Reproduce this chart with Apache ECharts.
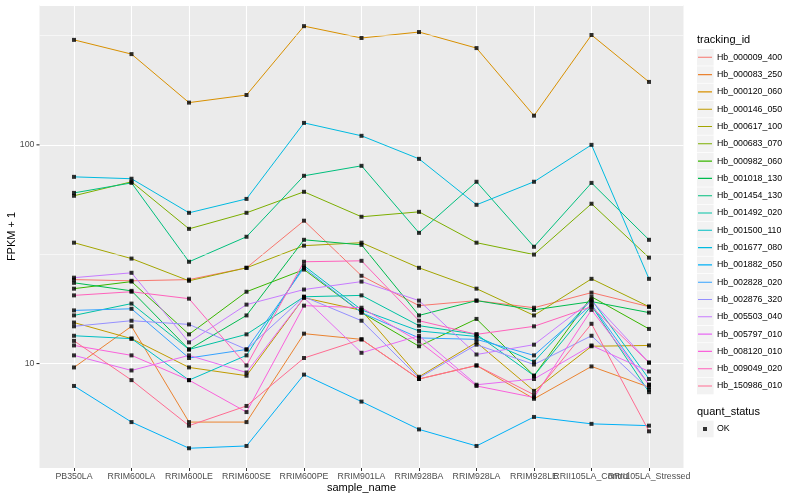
<!DOCTYPE html>
<html><head><meta charset="utf-8">
<script src="https://cdn.jsdelivr.net/npm/echarts@6/dist/echarts.min.js"></script>
<style>html,body{margin:0;padding:0;background:#fff}#c{width:800px;height:500px}</style>
</head><body><div id="c"></div>
<script>
const categories = ['PB350LA','RRIM600LA','RRIM600LE','RRIM600SE','RRIM600PE','RRIM901LA','RRIM928BA','RRIM928LA','RRIM928LE','RRII105LA_Control','RRII105LA_Stressed'];
const trackingIds = ['Hb_000009_400','Hb_000083_250','Hb_000120_060','Hb_000146_050','Hb_000617_100','Hb_000683_070','Hb_000982_060','Hb_001018_130','Hb_001454_130','Hb_001492_020','Hb_001500_110','Hb_001677_080','Hb_001882_050','Hb_002828_020','Hb_002876_320','Hb_005503_040','Hb_005797_010','Hb_008120_010','Hb_009049_020','Hb_150986_010'];
const colors = ['#F8766D','#EA8331','#D89000','#C09B00','#A3A500','#7CAE00','#39B600','#00BB4E','#00BF7D','#00C1A3','#00BFC4','#00BAE0','#00B0F6','#35A2FF','#9590FF','#C77CFF','#E76BF3','#FA62DB','#FF62BC','#FF6C91'];

const hb_000009_400 = [24.2, 23.9, 24.2, 27.4, 45.0, 25.2, 18.4, 19.4, 18.0, 21.1, 18.2];
const hb_000083_250 = [9.6, 14.8, 5.4, 5.4, 13.7, 12.9, 8.5, 9.8, 6.9, 9.7, 7.8];
const hb_000120_060 = [302, 260, 156, 169, 349, 308, 328, 277, 136, 318, 194];
const hb_000146_050 = [15.4, 13.0, 9.6, 8.8, 20.0, 17.5, 8.7, 12.5, 7.5, 12.0, 12.1];
const hb_000617_100 = [35.7, 30.2, 23.9, 27.4, 34.6, 35.7, 27.4, 22.0, 16.6, 24.4, 18.2];
const hb_000683_070 = [58.5, 67.8, 41.3, 48.9, 61.0, 46.9, 49.4, 35.7, 31.5, 53.8, 30.5];
const hb_000982_060 = [22.0, 23.7, 13.6, 21.3, 26.9, 17.1, 12.0, 16.0, 8.8, 20.2, 14.4];
const hb_001018_130 = [23.4, 21.5, 11.6, 16.6, 36.8, 34.9, 16.6, 19.4, 17.6, 19.2, 17.1];
const hb_001454_130 = [60.3, 67.0, 29.2, 38.0, 72.2, 80.2, 39.6, 67.8, 34.2, 67.0, 36.8];
const hb_001492_020 = [16.6, 18.8, 11.6, 13.6, 20.2, 20.5, 14.9, 13.6, 8.8, 18.4, 7.4];
const hb_001500_110 = [13.4, 13.0, 8.4, 10.9, 28.0, 17.6, 14.1, 13.3, 10.2, 19.6, 8.5];
const hb_001677_080 = [71.4, 70.0, 48.9, 56.6, 126, 110, 86.3, 53.2, 67.8, 100, 24.4];
const hb_001882_050 = [7.9, 5.4, 4.1, 4.2, 8.9, 6.7, 5.0, 4.2, 5.7, 5.3, 5.2];
const hb_002828_020 = [17.5, 17.8, 10.6, 11.6, 27.4, 17.1, 13.1, 12.9, 10.9, 18.6, 8.0];
const hb_002876_320 = [14.8, 15.7, 15.1, 11.6, 20.2, 15.7, 8.6, 12.2, 9.9, 13.4, 7.6];
const hb_005503_040 = [24.7, 26.0, 12.5, 18.6, 21.8, 23.7, 19.4, 11.0, 12.2, 19.4, 10.1];
const hb_005797_010 = [10.9, 9.3, 10.9, 9.1, 20.0, 11.2, 13.4, 8.0, 8.5, 12.1, 9.2];
const hb_008120_010 = [12.1, 10.9, 8.4, 6.0, 18.4, 18.0, 12.6, 7.9, 7.0, 17.6, 8.0];
const hb_009049_020 = [20.5, 21.3, 19.8, 9.8, 29.2, 29.5, 15.7, 13.6, 14.8, 18.2, 10.1];
const hb_150986_010 = [12.7, 8.4, 5.2, 6.4, 10.6, 12.9, 8.5, 9.8, 7.2, 15.2, 4.9];

const seriesValues = [hb_000009_400, hb_000083_250, hb_000120_060, hb_000146_050, hb_000617_100, hb_000683_070, hb_000982_060, hb_001018_130, hb_001454_130, hb_001492_020, hb_001500_110, hb_001677_080, hb_001882_050, hb_002828_020, hb_002876_320, hb_005503_040, hb_005797_010, hb_008120_010, hb_009049_020, hb_150986_010];

const yTickValues = [10, 100];
const yMinorGrid = [31.62, 316.2];
const yMin = 3.33, yMax = 436;

const FONT = '"Liberation Sans", Arial, Helvetica, sans-serif';
const chart = echarts.init(document.getElementById('c'), null, {renderer: 'canvas'});

const lineSeries = seriesValues.map((vals, i) => ({
  name: trackingIds[i], type: 'line', xAxisIndex: 1, yAxisIndex: 1,
  data: vals, color: colors[i], showSymbol: false, symbol: 'none',
  lineStyle: {color: colors[i], width: 1}, itemStyle: {color: colors[i]},
  emphasis: {disabled: true}, z: 2, animation: false
}));
const points = [];
seriesValues.forEach(vals => vals.forEach((v, j) => points.push([j, v])));

const lineIcon = 'path://M0,0h0.01v0.01h-0.01zM0,8.1h14v1.1h-14zM13.99,17.29h0.01v0.01h-0.01z';
const dotIcon = 'path://M0,0h0.01v0.01h-0.01zM5,6.65h4v4h-4zM13.99,17.29h0.01v0.01h-0.01z';

const graphics = [
  {type: 'text', left: 697, top: 34, style: {text: 'tracking_id', fontSize: 11, fontFamily: FONT, fill: '#000'}},
  {type: 'text', left: 697, top: 406, style: {text: 'quant_status', fontSize: 11, fontFamily: FONT, fill: '#000'}}
];
for (let i = 0; i < trackingIds.length; i++) {
  graphics.push({type: 'rect', shape: {x: 697, y: 57.3 + i * 17.3 - 8.3, width: 16.6, height: 16.6}, style: {fill: '#F2F2F2'}, z: -1, silent: true});
}
graphics.push({type: 'rect', shape: {x: 697, y: 429 - 8.3, width: 16.6, height: 16.6}, style: {fill: '#F2F2F2'}, z: -1, silent: true});

chart.setOption({
  animation: false,
  backgroundColor: '#fff',
  textStyle: {fontFamily: FONT},
  grid: [
    {left: 39.5, right: 116.5, top: 5, bottom: 32, show: true, backgroundColor: '#EBEBEB', borderWidth: 0, containLabel: false, outerBoundsMode: 'none'},
    {left: 74, right: 151, top: 5, bottom: 32, show: false, containLabel: false, outerBoundsMode: 'none'}
  ],
  xAxis: [
    {gridIndex: 0, type: 'value', min: 0, max: 1, show: false},
    {gridIndex: 1, type: 'category', data: categories, boundaryGap: false,
     axisLine: {show: false},
     axisTick: {show: true, length: 3, lineStyle: {color: '#333333', width: 1}, alignWithLabel: true},
     axisLabel: {interval: 0, hideOverlap: false, margin: 4, fontSize: 8.8, color: '#4D4D4D', fontFamily: FONT},
     splitLine: {show: true, lineStyle: {color: '#FFFFFF', width: 1.1}},
     name: 'sample_name', nameLocation: 'middle', nameGap: 14, nameMoveOverlap: false,
     nameTextStyle: {fontSize: 11, color: '#000', fontFamily: FONT}}
  ],
  yAxis: [
    {gridIndex: 0, type: 'log', logBase: 10, min: yMin, max: yMax,
     axisLine: {show: false},
     axisTick: {show: false},
     axisLabel: {margin: 0, fontSize: 8.8, color: '#4D4D4D', fontFamily: FONT,
       showMinLabel: false, showMaxLabel: false,
       formatter: v => (yTickValues.some(t => Math.abs(t - v) < 1e-6 * t) ? String(Math.round(v)) + '{g|}{t|}' : ''),
       rich: {g: {width: 2, height: 1}, t: {width: 3, height: 1.1, backgroundColor: '#333333', verticalAlign: 'middle'}}},
     splitLine: {show: true, lineStyle: {color: '#FFFFFF', width: 1.1}},
     minorTick: {show: false}, minorSplitLine: {show: false},
     name: 'FPKM + 1', nameLocation: 'middle', nameGap: 22, nameRotate: 90, nameMoveOverlap: false,
     nameTextStyle: {fontSize: 11, color: '#000', fontFamily: FONT}},
    {gridIndex: 1, type: 'log', logBase: 10, min: yMin, max: yMax, show: false,
     axisLine: {show: false}, axisTick: {show: false}, axisLabel: {show: false}, splitLine: {show: false}}
  ],
  legend: [
    {orient: 'vertical', left: 698, top: 48.65, padding: 0, itemGap: 0, itemWidth: 14, itemHeight: 17.3,
     icon: lineIcon, data: trackingIds, selectedMode: false,
     textStyle: {fontSize: 8.8, color: '#000', fontFamily: FONT, padding: [0, 0, 0, 0]}},
    {orient: 'vertical', left: 698, top: 420.35, padding: 0, itemGap: 0, itemWidth: 14, itemHeight: 17.3,
     icon: dotIcon, data: ['OK'], selectedMode: false,
     textStyle: {fontSize: 8.8, color: '#000', fontFamily: FONT}}
  ],
  graphic: graphics,
  series: [
    {name: 'minor', type: 'line', xAxisIndex: 0, yAxisIndex: 0, data: [], z: 1, silent: true,
     markLine: {silent: true, symbol: ['none', 'none'], label: {show: false},
       lineStyle: {color: '#FFFFFF', width: 0.55, type: 'solid'}, emphasis: {disabled: true},
       data: yMinorGrid.map(v => ({yAxis: v}))}},
    ...lineSeries,
    {name: 'OK', type: 'scatter', xAxisIndex: 1, yAxisIndex: 1, data: points, symbol: 'rect', symbolSize: 4,
     itemStyle: {color: '#000'}, color: '#000', z: 5, emphasis: {disabled: true}}
  ]
});
</script>
</body></html>
